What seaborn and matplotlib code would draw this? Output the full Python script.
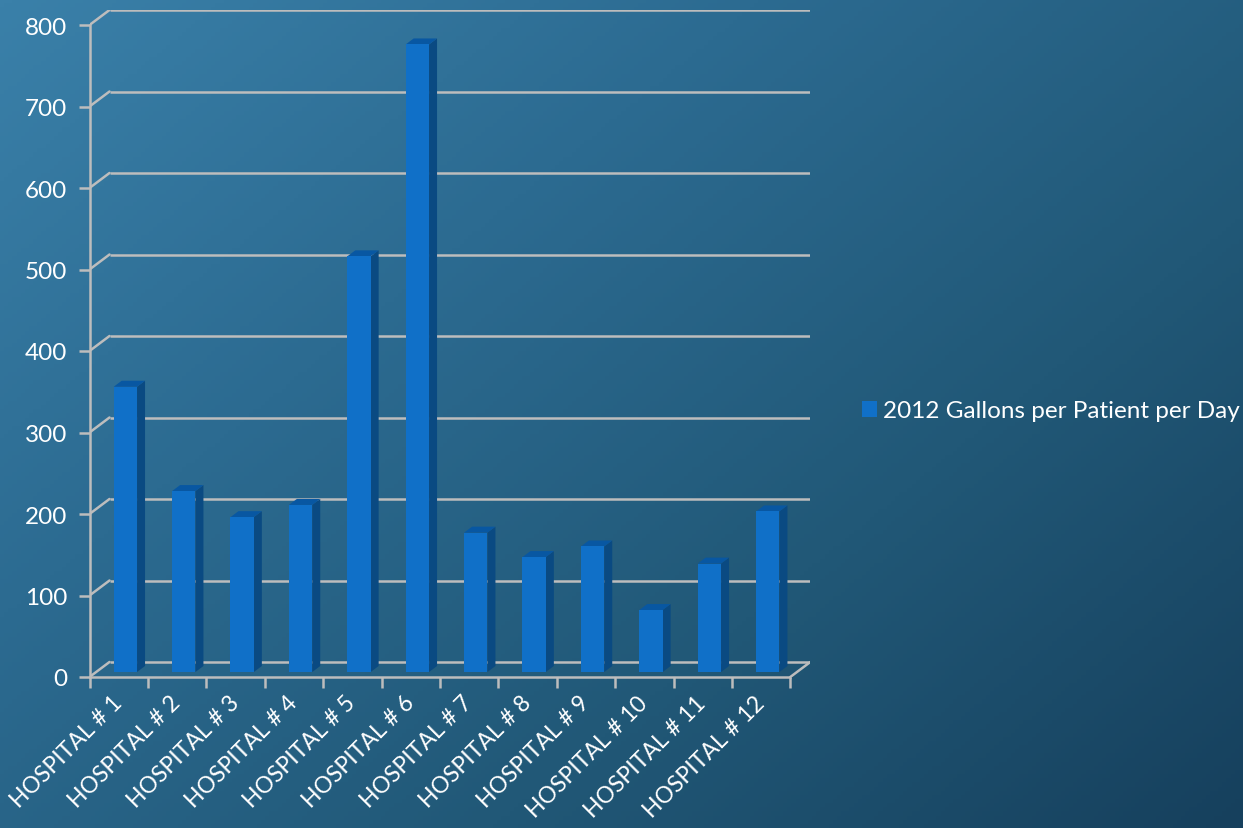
import numpy as np
import pandas as pd
import matplotlib
matplotlib.use("Agg")
import matplotlib.pyplot as plt
from matplotlib.patches import Polygon, Patch
from matplotlib.colors import LinearSegmentedColormap
import seaborn as sns

hospitals = ["HOSPITAL # 1", "HOSPITAL # 2", "HOSPITAL # 3", "HOSPITAL # 4",
             "HOSPITAL # 5", "HOSPITAL # 6", "HOSPITAL # 7", "HOSPITAL # 8",
             "HOSPITAL # 9", "HOSPITAL # 10", "HOSPITAL # 11", "HOSPITAL # 12"]
gallons = [350, 222, 190, 205, 510, 770, 171, 141, 154, 76, 133, 197]
series_name = "2012 Gallons per Patient per Day"
y_ticks = [0, 100, 200, 300, 400, 500, 600, 700, 800]

sns.set_theme(style="white")
plt.rcParams['font.family'] = ['Lato', 'DejaVu Sans']

W, H = 1243, 829
fig = plt.figure(figsize=(W / 100, H / 100), dpi=100)

# background gradient
bg = fig.add_axes([0, 0, 1, 1], zorder=-10)
bg.set_axis_off()
yy, xx = np.mgrid[0:1:200j, 0:1:300j]
t = np.clip(0.55 * xx + 0.45 * yy, 0, 1)
cmap = LinearSegmentedColormap.from_list("bgc", ["#3A80A9", "#2C6B91", "#215877", "#16405D"])
bg.imshow(t, cmap=cmap, aspect="auto", extent=[0, 1, 1, 0])
bg.set_xlim(0, 1); bg.set_ylim(1, 0)

# geometry (in pixels -> data units)
cat_px = 58.4
unit_px = 0.815
dx = 20 / cat_px
dy = 15 / unit_px
ymax = 800

left_px, right_px = 89.5, 89.5 + cat_px * (12 + dx)
bot_px = 678
top_px = bot_px - unit_px * (ymax + dy)
ax = fig.add_axes([left_px / W, (H - bot_px) / H, (right_px - left_px) / W, (bot_px - top_px) / H])
ax.patch.set_alpha(0)

df = pd.DataFrame({"hospital": hospitals, "value": gallons})
sns.barplot(data=df, x="hospital", y="value", ax=ax, color="#1070C8",
            width=0.40, saturation=1, zorder=3, linewidth=0)

ax.set_xlim(-0.5, 11.5 + dx)
ax.set_ylim(0, ymax + dy)

grid_c = "#BDBDBD"
# back wall gridlines + left-wall diagonals
for v in y_ticks:
    ax.plot([-0.5 + dx, 11.5 + dx], [v + dy, v + dy], color=grid_c, lw=1.8, zorder=1, solid_capstyle="butt")
    ax.plot([-0.5, -0.5 + dx], [v, v + dy], color=grid_c, lw=1.8, zorder=1)
# floor right diagonal
ax.plot([11.5, 11.5 + dx], [0, dy], color=grid_c, lw=1.8, zorder=1)

# 3D bar faces
off_x, off_y = dx / 3, dy / 3
ddx, ddy = 0.4 * dx, 0.4 * dy
for p in list(ax.patches):
    x0 = p.get_x() + off_x
    h = p.get_height()
    p.set_x(x0)
    p.set_y(off_y)
    x1 = x0 + p.get_width()
    y0, y1 = off_y, off_y + h
    side = Polygon([(x1, y0), (x1 + ddx, y0 + ddy), (x1 + ddx, y1 + ddy), (x1, y1)],
                   closed=True, facecolor="#0A4A82", edgecolor="none", zorder=2.9)
    top = Polygon([(x0, y1), (x1, y1), (x1 + ddx, y1 + ddy), (x0 + ddx, y1 + ddy)],
                  closed=True, facecolor="#0857A2", edgecolor="none", zorder=2.9)
    ax.add_patch(side)
    ax.add_patch(top)

# spines (front axes)
for s in ["top", "right"]:
    ax.spines[s].set_visible(False)
for s in ["left", "bottom"]:
    ax.spines[s].set_color(grid_c)
    ax.spines[s].set_linewidth(1.8)
ax.spines["left"].set_bounds(0, ymax)
ax.spines["bottom"].set_bounds(-0.5, 11.5)

fs = 17.5
ax.set_yticks(y_ticks)
ax.set_yticklabels([str(v) for v in y_ticks])
ax.tick_params(axis="y", which="major", direction="out", length=8, width=1.8,
               color=grid_c, labelcolor="white", labelsize=fs, pad=8, left=True)
ax.set_xticks(range(12))
ax.set_xticklabels(hospitals, rotation=45, ha="right", va="center", rotation_mode="anchor")
ax.set_xticks(np.arange(-0.5, 12, 1), minor=True)
ax.tick_params(axis="x", which="major", length=0, labelcolor="white", labelsize=16.5, pad=16)
ax.tick_params(axis="x", which="minor", direction="out", length=8, width=1.8, color=grid_c, bottom=True)
ax.set_xlabel("")
ax.set_ylabel("")
ax.grid(False)

handle = Patch(facecolor="#1070C8", edgecolor="none")
leg = fig.legend([handle], [series_name], loc="center left",
                 bbox_to_anchor=(857 / W, 1 - 412 / H), frameon=False,
                 fontsize=fs, handlelength=0.62, handleheight=0.62, handletextpad=0.25,
                 borderpad=0.2, borderaxespad=0)
for txt in leg.get_texts():
    txt.set_color("white")

fig.savefig("out.png", dpi=100)
